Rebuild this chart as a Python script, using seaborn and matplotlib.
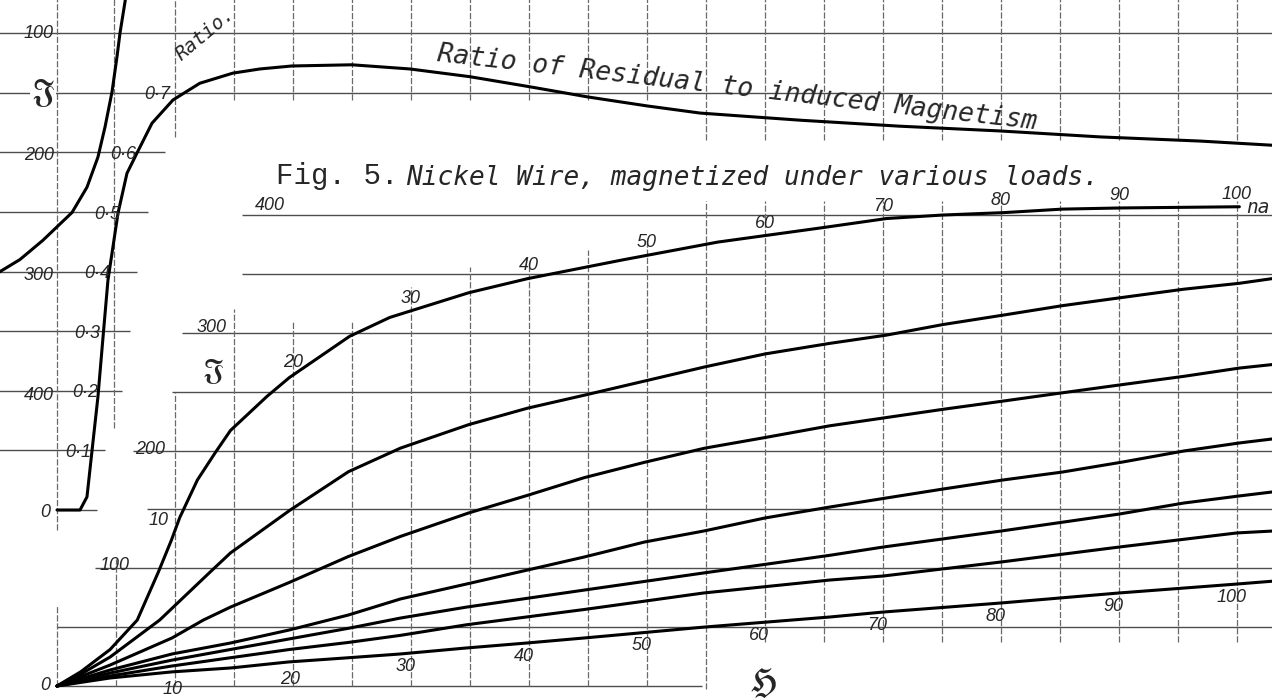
import numpy as np
import matplotlib
matplotlib.use("Agg")
import matplotlib.pyplot as plt
import seaborn as sns

# ---------------- data ----------------
# Nickel wire: intensity of magnetisation J against field H, seven loads (top curve = no load)
H1 = [0, 2.0, 4.5, 6.8, 8.6, 9.7, 10.4, 11.9, 13.4, 14.7, 17.8, 19.7, 24.8, 28.2, 34.9, 39.9, 48.0, 56.0, 64.7, 70.3, 75.1, 80.2, 85.2, 90.3, 100.2]
J1 = [0, 12, 31, 56, 97, 124, 143, 175, 198, 217, 246, 262, 297, 313, 334, 346, 362, 377, 389, 397, 400, 402, 405, 406, 407]

H2 = [0, 2.0, 4.5, 8.7, 13.0, 14.7, 19.7, 24.7, 29.1, 34.9, 39.9, 44.7, 49.8, 54.9, 60.0, 65.5, 70.3, 75.1, 80.2, 85.2, 90.3, 95.5, 100.2, 103.0]
J2 = [0, 10, 24.6, 56, 97, 113, 149, 182, 202, 222, 236, 247, 259, 271, 282, 291, 298, 307, 315, 323, 330, 337, 342, 346]

H3 = [0, 2.0, 4.5, 9.75, 12.4, 14.7, 19.7, 24.7, 29.1, 34.9, 39.9, 44.7, 49.8, 54.9, 60.0, 65.5, 70.3, 75.1, 80.2, 85.2, 90.3, 95.5, 100.2, 103.0]
J3 = [0, 8, 17.8, 40.8, 56, 67, 88, 110, 127, 147, 162, 177, 190, 202, 211, 221, 228, 235, 242, 249, 256, 263, 270, 273]

H4 = [0, 4.5, 9.75, 14.7, 19.7, 24.7, 29.1, 34.7, 44.7, 49.8, 54.8, 60.0, 65.5, 70.3, 75.1, 80.2, 85.2, 90.3, 95.5, 100.2, 103.0]
J4 = [0, 13.6, 27.2, 36.5, 47.6, 60.3, 73.9, 86.6, 109.6, 122.3, 131.6, 142.7, 152, 159.7, 167.3, 175, 181.7, 190.2, 199.6, 206.4, 209.8]

H5 = [0, 4.5, 9.75, 14.7, 19.7, 24.7, 29.1, 34.7, 44.7, 54.8, 65.5, 70.0, 80.0, 90.0, 95.5, 100.2, 103.0]
J5 = [0, 11, 22, 31, 40, 49, 57.7, 67, 81.5, 96, 111, 118, 131.6, 146, 155.4, 161.4, 164.8]

H6 = [0, 4.5, 9.75, 14.7, 19.7, 24.7, 29.1, 34.7, 44.7, 54.8, 65.5, 70.0, 80.0, 90.0, 100.0, 103.0]
J6 = [0, 8.5, 17, 24, 31, 37, 43, 52, 65, 79, 90, 93.4, 105.3, 118, 130, 131.6]

H7 = [0, 4.5, 9.75, 14.7, 19.6, 24.7, 29.1, 34.7, 39.8, 44.7, 54.8, 65.5, 70.0, 80.0, 90.0, 100.0, 103.0]
J7 = [0, 6.8, 12, 15.3, 20.4, 24, 27.2, 32.3, 36.5, 40.8, 50, 58.6, 62.8, 70.5, 79, 86.6, 89]

# ratio of residual to induced magnetism against H
HR = [0, 1.95, 2.54, 2.97, 3.47, 3.9, 4.32, 5.17, 5.93, 6.78, 8.05, 9.83, 12.1, 14.9, 17.2, 19.9, 25.0, 29.9, 35.0, 40.1, 45.0, 50.0, 54.5, 63.0, 71.4, 79.9, 88.4, 96.9, 103.0]
R = [0, 0, 0.022, 0.10, 0.19, 0.29, 0.386, 0.498, 0.565, 0.599, 0.649, 0.688, 0.716, 0.733, 0.740, 0.745, 0.747, 0.740, 0.727, 0.710, 0.693, 0.678, 0.666, 0.654, 0.644, 0.636, 0.626, 0.619, 0.612]

# small inset curve at upper left (J on an inverted scale)
HI = [-5.5, -3.14, -1.19, 1.27, 2.54, 3.47, 4.07, 4.66, 5.08, 5.34, 5.93]
JI = [302, 288, 272, 249, 228, 203, 178, 149, 120, 100, 64]

CURVE_LABEL_H = [10, 20, 30, 40, 50, 60, 70, 80, 90, 100]
CURVE_LABEL_TXT = ["10", "20", "30", "40", "50", "60", "70", "80", "90", "100"]
J_TICK_TXT = ["0", "100", "200", "300", "400"]
INSET_J_TXT = ["100", "200", "300", "400"]
RATIO_TICKS = [0, 0.1, 0.2, 0.3, 0.4, 0.5, 0.6, 0.7]
RATIO_TXT = ["0", "0·1", "0·2", "0·3", "0·4", "0·5", "0·6", "0·7"]

# ---------------- figure ----------------
sns.set_style("white")
plt.rcParams["font.family"] = ["Liberation Sans", "DejaVu Sans"]
plt.rcParams["mathtext.fontset"] = "stix"

W, HP = 1272, 699
fig = plt.figure(figsize=(W / 100, HP / 100), dpi=100)
fig.patch.set_facecolor("white")

# pixel calibration of the drawing
X0, XS = 57, 11.8        # px of H = 0, px per unit H
Y0, YS = 686, 1.1775     # px of J = 0, px per unit J
RY0, RYS = 510, 596      # px of ratio 0, px per unit ratio
IY0, IYS = 33, 1.205     # inset: px of J = 100, px per unit J

ax = fig.add_axes([0, 0, 1, 1])
axr = ax.twinx()
axi = ax.twinx()


def set_limits():
    ax.set_xlim(-X0 / XS, (W - X0) / XS)
    ax.set_ylim((Y0 - HP) / YS, Y0 / YS)
    axr.set_ylim((RY0 - HP) / RYS, RY0 / RYS)
    axi.set_ylim(100 + (HP - IY0) / IYS, 100 - IY0 / IYS)


set_limits()
for a in (ax, axr, axi):
    a.set_axis_off()

GC = "#4d4d4d"
GV = "#6a6a6a"
hkw = dict(colors=GC, linewidth=1.0, zorder=1)
vkw = dict(colors=GV, linewidth=0.9, linestyles=(0, (5, 1.5)), zorder=1)

# main grid (J, H from, H to) and (H, J from, J to)
for j, h0, h1 in [(0, 0, 54.7), (50, 0, 103), (100, 3.2, 103), (150, 7.6, 103), (200, 6.4, 103),
                  (250, 9.75, 103), (300, 10.6, 103), (350, 15.7, 103), (400, 15.7, 103)]:
    ax.hlines(j, h0, h1, **hkw)
main_v = [(0, 0, 69), (5, 0, 108), (10, 0, 249), (15, 0, 320), (20, 0, 309), (25, 0, 309),
          (30, 0, 339), (35, 0, 356), (40, 0, 356), (45, 0, 370), (50, 0, 379), (55, -2.5, 412)]
main_v += [(h, 37, 412) for h in range(60, 101, 5)]
for h, j0, j1 in main_v:
    ax.vlines(h, j0, j1, **vkw)

# upper / inset grid in ratio units
for r, h0, h1 in [(0.8, -5, 103), (0.7, -5, 103), (0.6, -5, 9.15), (0.5, -5, 7.7), (0.4, -5, 6.8),
                  (0.3, -5, 6.2), (0.2, -5, 5.5), (0.1, -5, 4.1), (0.0, 0, 3.4)]:
    axr.hlines(r, h0, h1, **hkw)
top_v = [(0, -0.034, 0.86), (4.8, 0.138, 0.86), (10, 0.626, 0.86)]
top_v += [(h, 0.688, 0.86) for h in range(15, 51, 5)]
top_v += [(h, 0.62, 0.86) for h in range(55, 101, 5)]
for h, r0, r1 in top_v:
    axr.vlines(h, r0, r1, **vkw)

# curves
for hs, js in [(H1, J1), (H2, J2), (H3, J3), (H4, J4), (H5, J5), (H6, J6), (H7, J7)]:
    sns.lineplot(x=hs, y=js, ax=ax, color="black", linewidth=2.2, sort=False,
                 estimator=None, legend=False, zorder=3)
sns.lineplot(x=HR, y=R, ax=axr, color="black", linewidth=2.2, sort=False,
             estimator=None, legend=False, zorder=3)
sns.lineplot(x=HI, y=JI, ax=axi, color="black", linewidth=2.2, sort=False,
             estimator=None, legend=False, zorder=3)
set_limits()
for a in (ax, axr, axi):
    a.set_axis_off()

# ---------------- text ----------------
def P(x, y):
    return x / W, 1 - y / HP


lab = dict(family=["Liberation Sans", "DejaVu Sans"], style="italic", fontsize=13,
           ha="center", va="center")
script = dict(family="DejaVu Sans Mono", style="italic")

# H labels along top curve and bottom curve
top_off = [(-12, 7)] + [(0, 9)] * 9
bot_off = [(-2, -13), (-2, -13)] + [(-4, -9.5)] * 8
for h, t, o in zip(CURVE_LABEL_H, CURVE_LABEL_TXT, top_off):
    ax.annotate(t, (h, np.interp(h, H1, J1)), xytext=o, textcoords="offset points", **lab)
for h, t, o in zip(CURVE_LABEL_H, CURVE_LABEL_TXT, bot_off):
    ax.annotate(t, (h, np.interp(h, H7, J7)), xytext=o, textcoords="offset points", **lab)

# J labels of the main chart (stepped)
for t, (x, y) in zip(J_TICK_TXT, [(45, 686), (115, 565), (150, 450), (212, 327), (270, 205)]):
    fig.text(*P(x, y), t, **lab)

# inset labels
for t, y in zip(INSET_J_TXT, [33, 156, 276, 396]):
    fig.text(*P(39, y), t, **lab)
ratio_x = [45, 78, 85, 87, 97, 107, 123, 157]
for r, t, x in zip(RATIO_TICKS, RATIO_TXT, ratio_x):
    axr.annotate(t, ((x - X0) / XS, r), xytext=(0, -1.5), textcoords="offset points", **lab)

fig.text(*P(43, 93), r"$\mathfrak{J}$", fontsize=22, ha="center", va="center",
         bbox=dict(facecolor="white", edgecolor="none", pad=0.5))
fig.text(*P(213, 372), r"$\mathfrak{J}$", fontsize=20, ha="center", va="center")
fig.text(*P(763, 683), r"$\mathfrak{H}$", fontsize=24, ha="center", va="center")

fig.text(*P(205, 34), "Ratio.", rotation=40, fontsize=14, ha="center", va="center",
         rotation_mode="anchor", **script)
fig.text(*P(737, 88), "Ratio of Residual to induced Magnetism", rotation=-6.5,
         fontsize=19, ha="center", va="center", rotation_mode="anchor", **script)
fig.text(*P(276, 176), "Fig. 5.", family="Liberation Mono", fontsize=21, ha="left", va="center")
fig.text(*P(406, 178), "Nickel Wire, magnetized under various loads.", fontsize=18.8,
         ha="left", va="center", **script)
fig.text(*P(1246, 208), "na", fontsize=14, ha="left", va="center", **script)

fig.savefig("out.png", dpi=100, facecolor="white")
